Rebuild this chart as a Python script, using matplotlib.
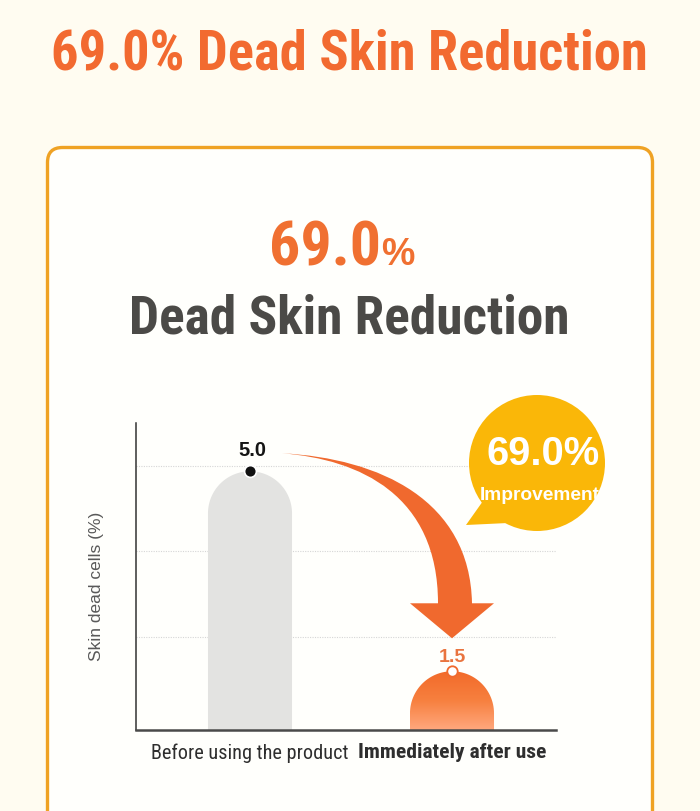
import numpy as np
import matplotlib
matplotlib.use("Agg")
import matplotlib.pyplot as plt
from matplotlib import font_manager
from matplotlib.patches import FancyBboxPatch, PathPatch, Circle, Polygon, Rectangle
from matplotlib.path import Path
from matplotlib.colors import LinearSegmentedColormap

# ---------------- data ----------------
categories = ["Before using the product", "Immediately after use"]
values = [5.0, 1.5]
value_labels = ["5.0", "1.5"]
improvement = "69.0%"
headline = "69.0% Dead Skin Reduction"
card_number = "69.0"
card_title = "Dead Skin Reduction"
y_label = "Skin dead cells (%)"
bubble_sub = "Improvement"

# ---------------- fonts ----------------
names = {f.name for f in font_manager.fontManager.ttflist}
NARROW = "Liberation Sans"
for cand in ["Liberation Sans Narrow", "Roboto Condensed", "PT Sans Narrow"]:
    if cand in names:
        NARROW = cand
        break
SANS = "Liberation Sans"

ORANGE = "#F0692E"
CREAM = "#FFFCF1"

fig = plt.figure(figsize=(7, 8.11), dpi=100)
renderer = fig.canvas.get_renderer()

def fit(t, target_w):
    w = t.get_window_extent(renderer).width
    t.set_fontsize(t.get_fontsize() * target_w / w)

# background layer (pixel coordinates, y down)
bg = fig.add_axes([0, 0, 1, 1], zorder=0)
bg.set_xlim(0, 700); bg.set_ylim(811, 0); bg.axis("off")
bg.add_patch(Rectangle((0, 0), 700, 811, color=CREAM, zorder=0))
bg.add_patch(FancyBboxPatch((47.5, 147.5), 605, 720,
                            boxstyle="round,pad=0,rounding_size=15",
                            facecolor="#FFFFFC", edgecolor="#EFA224", lw=2.4, zorder=1))
t = bg.text(349, 70, headline, ha="center", va="baseline", fontsize=39,
            fontweight="bold", color="#F26A30", family=[NARROW, "DejaVu Sans"])
fit(t, 597)
t = bg.text(381, 265, card_number, ha="right", va="baseline", fontsize=50,
            fontweight="bold", color="#F07031", family=[NARROW, "DejaVu Sans"])
fit(t, 112)
bg.text(381, 265, "%", ha="left", va="baseline", fontsize=27,
        fontweight="bold", color="#F07031", family=[SANS, "DejaVu Sans"])
t = bg.text(349, 334, card_title, ha="center", va="baseline", fontsize=39.5,
            fontweight="bold", color="#4B4A47", family=[NARROW, "DejaVu Sans"])
fit(t, 442)
t = bg.text(97, 586, y_label, ha="center", va="center", rotation=90, fontsize=12.5,
            color="#595959", family=[SANS, "DejaVu Sans"])
fit(t, 147) if False else None

# ---------------- chart axes ----------------
ax = fig.add_axes([136 / 700, (811 - 730) / 811, 420 / 700, 307 / 811], zorder=1)
ax.patch.set_alpha(0)
ax.set_autoscale_on(False)
ax.set_xlim(-0.5644, 1.5149)
ax.set_ylim(0.4725, 5.845)
for s in ["top", "right"]:
    ax.spines[s].set_visible(False)
ax.spines["left"].set_color("#333333"); ax.spines["left"].set_linewidth(1.1)
ax.spines["bottom"].set_color("#4A4A4A"); ax.spines["bottom"].set_linewidth(1.8)
ax.set_yticks([2.1, 3.6, 5.1])
ax.set_yticklabels([])
ax.tick_params(axis="y", length=0)
ax.yaxis.grid(True, linestyle=(0, (1, 1.2)), color="#D6D6D6", lw=0.8)
ax.set_axisbelow(True)
xpos = np.arange(len(categories))
ax.set_xticks(xpos)
ax.set_xticklabels(categories)
ax.tick_params(axis="x", length=0, pad=9.5)
for lbl, w, tw in zip(ax.get_xticklabels(), ["normal", "bold"], [197, 188]):
    lbl.set_family([NARROW, "DejaVu Sans"]); lbl.set_fontsize(15.5)
    lbl.set_fontweight(w); lbl.set_color("#2E2E2E")
    fit(lbl, tw)

bar_width = 0.416
hw = bar_width / 2
p0 = ax.transData.transform((0, 0))
pxx = ax.transData.transform((1, 0))[0] - p0[0]
pxy = ax.transData.transform((0, 1))[1] - p0[1]
hd = hw * pxx / pxy
y0 = ax.get_ylim()[0]

def dome_path(xc, v):
    th = np.linspace(np.pi, 0, 60)
    xs = np.concatenate([[xc - hw], xc + hw * np.cos(th), [xc + hw]])
    ys = np.concatenate([[y0], (v - hd) + hd * np.sin(th), [y0]])
    return Path(np.column_stack([xs, ys]), closed=False)

ax.add_patch(PathPatch(dome_path(xpos[0], values[0]), facecolor="#E3E3E1",
                       edgecolor="none", zorder=2))
patch2 = PathPatch(dome_path(xpos[1], values[1]), facecolor="none", edgecolor="none", zorder=2)
ax.add_patch(patch2)
cmap = LinearSegmentedColormap.from_list("g", ["#FFA87E", "#F7803F", "#F26A2A"])
grad = np.linspace(0, 1, 256).reshape(-1, 1)
im = ax.imshow(grad, cmap=cmap, aspect="auto", origin="lower",
               extent=(xpos[1] - hw, xpos[1] + hw, y0, values[1]), zorder=2)
im.set_clip_path(patch2)

ax.plot([xpos[0]], [values[0]], "o", ms=8.5, mfc="#111111", mec="white", mew=1.2, zorder=4)
ax.plot([xpos[1]], [values[1]], "o", ms=7.5, mfc="white", mec=ORANGE, mew=1.3, zorder=4)
ax.annotate(value_labels[0], (xpos[0], values[0]), xytext=(1.5, 11), textcoords="offset points",
            ha="center", va="baseline", fontsize=14.5, fontweight="bold", color="#151515",
            family=[SANS, "DejaVu Sans"], zorder=4)
ax.annotate(value_labels[1], (xpos[1], values[1]), xytext=(0, 7), textcoords="offset points",
            ha="center", va="baseline", fontsize=14, fontweight="bold", color="#E9743F",
            family=[SANS, "DejaVu Sans"], zorder=4)

# ---------------- overlay: arrow + bubble ----------------
ov = fig.add_axes([0, 0, 1, 1], zorder=3)
ov.set_xlim(0, 700); ov.set_ylim(811, 0); ov.axis("off"); ov.patch.set_alpha(0)

def to_px(x, y):
    return ov.transData.inverted().transform(ax.transData.transform((x, y)))

a = to_px(xpos[0], values[0])
b = to_px(xpos[1], values[1])
tail = a + np.array([32, -18])
tip = b + np.array([0, -33])
oe = tip + np.array([20, -35]); ie = tip + np.array([-14, -35])
hr = tip + np.array([42, -35]); hl = tip + np.array([-42, -35])
verts = [tail, tail + [98, 5], oe + [-2, -103], oe, hr, tip, hl, ie,
         ie + [0, -108], tail + [78, 6], tail, tail]
codes = [Path.MOVETO, Path.CURVE4, Path.CURVE4, Path.CURVE4, Path.LINETO, Path.LINETO,
         Path.LINETO, Path.LINETO, Path.CURVE4, Path.CURVE4, Path.CURVE4, Path.CLOSEPOLY]
ov.add_patch(PathPatch(Path(verts, codes), facecolor=ORANGE, edgecolor="none", zorder=2))

YEL = "#FAB708"
ov.add_patch(Circle((537, 463), 68, facecolor=YEL, edgecolor="none", zorder=3))
ov.add_patch(Polygon([(483, 501), (466, 525), (508, 523)], closed=True,
                     facecolor=YEL, edgecolor="none", zorder=3))
t = ov.text(543, 465, improvement, ha="center", va="baseline", fontsize=28, fontweight="bold",
            color="white", family=[SANS, "DejaVu Sans"], zorder=4)
fit(t, 113)
t = ov.text(540, 500, bubble_sub, ha="center", va="baseline", fontsize=13, fontweight="bold",
            color="white", family=[SANS, "DejaVu Sans"], zorder=4)
fit(t, 120)

fig.savefig("out.png", dpi=100, facecolor=CREAM)
